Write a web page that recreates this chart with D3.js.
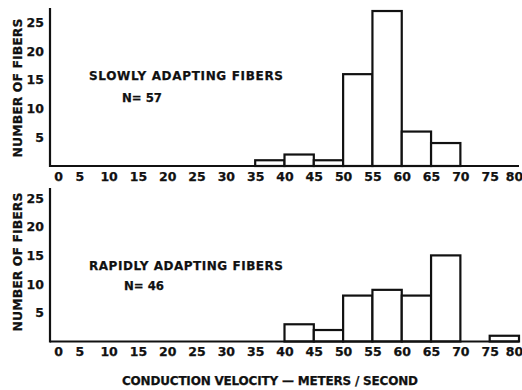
<!DOCTYPE html>
<html>
<head>
<meta charset="utf-8">
<script src="https://cdn.jsdelivr.net/npm/d3@7"></script>
<style>
  html, body { margin: 0; padding: 0; background: #fff; }
  text { font-family: "DejaVu Sans", Verdana, sans-serif; font-weight: bold; fill: #111; stroke: #111; stroke-width: 0.25px; }
</style>
</head>
<body>
<svg id="chart" width="522" height="390"></svg>
<script>
// Conduction velocity bins (m/s): lower edge of each 5 m/s bin
const binStarts = [0, 5, 10, 15, 20, 25, 30, 35, 40, 45, 50, 55, 60, 65, 70, 75];
// Fiber counts per bin
const slowCounts  = [0, 0, 0, 0, 0, 0, 0, 1, 2, 1, 16, 27, 6, 4, 0, 0];
const rapidCounts = [0, 0, 0, 0, 0, 0, 0, 0, 3, 2, 8, 9, 8, 15, 0, 1];
const xTicks = [0, 5, 10, 15, 20, 25, 30, 35, 40, 45, 50, 55, 60, 65, 70, 75, 80];
const yTicks = [5, 10, 15, 20, 25];
const panels = [
  { title: "SLOWLY ADAPTING FIBERS", n: "N= 57", counts: slowCounts },
  { title: "RAPIDLY ADAPTING FIBERS", n: "N= 46", counts: rapidCounts }
];

const svg = d3.select("#chart");
const ink = "#111";
const x = d3.scaleLinear().domain([0, 80]).range([50, 519]);

// layout of each panel: baseline y and top of y axis line
const layout = [
  { base: 166, top: 8, titleY: 79.5, nY: 101.5, nX: 122, yTitleC: 88 },
  { base: 341.5, top: 188, titleY: 269.5, nY: 289.5, nX: 124, yTitleC: 262 }
];

panels.forEach((p, i) => {
  const L = layout[i];
  const y = d3.scaleLinear().domain([0, 25]).range([L.base, L.base - 143.5]);
  const g = svg.append("g");

  // bars
  const bins = binStarts.map((s, k) => ({ s, c: p.counts[k] })).filter(d => d.c > 0);
  g.selectAll("rect.bar").data(bins).join("rect")
    .attr("class", "bar")
    .attr("x", d => x(d.s))
    .attr("width", d => x(d.s + 5) - x(d.s))
    .attr("y", d => y(d.c))
    .attr("height", d => y(0) - y(d.c))
    .attr("fill", "#fff")
    .attr("stroke", ink)
    .attr("stroke-width", 2.2);

  // axis lines
  g.append("line").attr("x1", x(0)).attr("x2", x(80)).attr("y1", L.base).attr("y2", L.base)
    .attr("stroke", ink).attr("stroke-width", 2.2);
  g.append("line").attr("x1", x(0)).attr("x2", x(0)).attr("y1", L.top).attr("y2", L.base + 1)
    .attr("stroke", ink).attr("stroke-width", 2.2);

  // y tick labels
  const ya = g.append("g").attr("transform", `translate(${x(0)},0)`)
    .call(d3.axisLeft(y).tickValues(yTicks).tickSize(0).tickPadding(6));
  ya.select(".domain").remove();
  ya.selectAll("text").attr("font-size", 12.5).style("font-family", '"DejaVu Sans", sans-serif').style("font-weight", "bold");

  // x tick labels
  const xa = g.append("g").attr("transform", `translate(0,${L.base})`)
    .call(d3.axisBottom(x).tickValues(xTicks).tickSize(0).tickPadding(6).tickFormat(d3.format("d")));
  xa.select(".domain").remove();
  xa.selectAll("text").attr("font-size", 12.5).style("font-family", '"DejaVu Sans", sans-serif').style("font-weight", "bold")
    .attr("dx", d => d === 0 ? 8 : (d === 80 ? -5 : 0));

  // panel labels
  g.append("text").attr("x", 89).attr("y", L.titleY).attr("font-size", 12)
    .attr("textLength", 194).attr("lengthAdjust", "spacing").text(p.title);
  g.append("text").attr("x", L.nX).attr("y", L.nY).attr("font-size", 12.5)
    .attr("textLength", 40).attr("lengthAdjust", "spacingAndGlyphs").text(p.n);

  // y axis title
  g.append("text")
    .attr("transform", `translate(22,${L.yTitleC}) rotate(-90)`)
    .attr("text-anchor", "middle").attr("font-size", 12.5)
    .attr("textLength", 139).attr("lengthAdjust", "spacing")
    .text("NUMBER OF FIBERS");
});

// x axis title
svg.append("text").attr("x", 122).attr("y", 384.5).attr("font-size", 12)
  .attr("textLength", 296).attr("lengthAdjust", "spacing")
  .text("CONDUCTION VELOCITY \u2014 METERS / SECOND");
</script>
</body>
</html>
